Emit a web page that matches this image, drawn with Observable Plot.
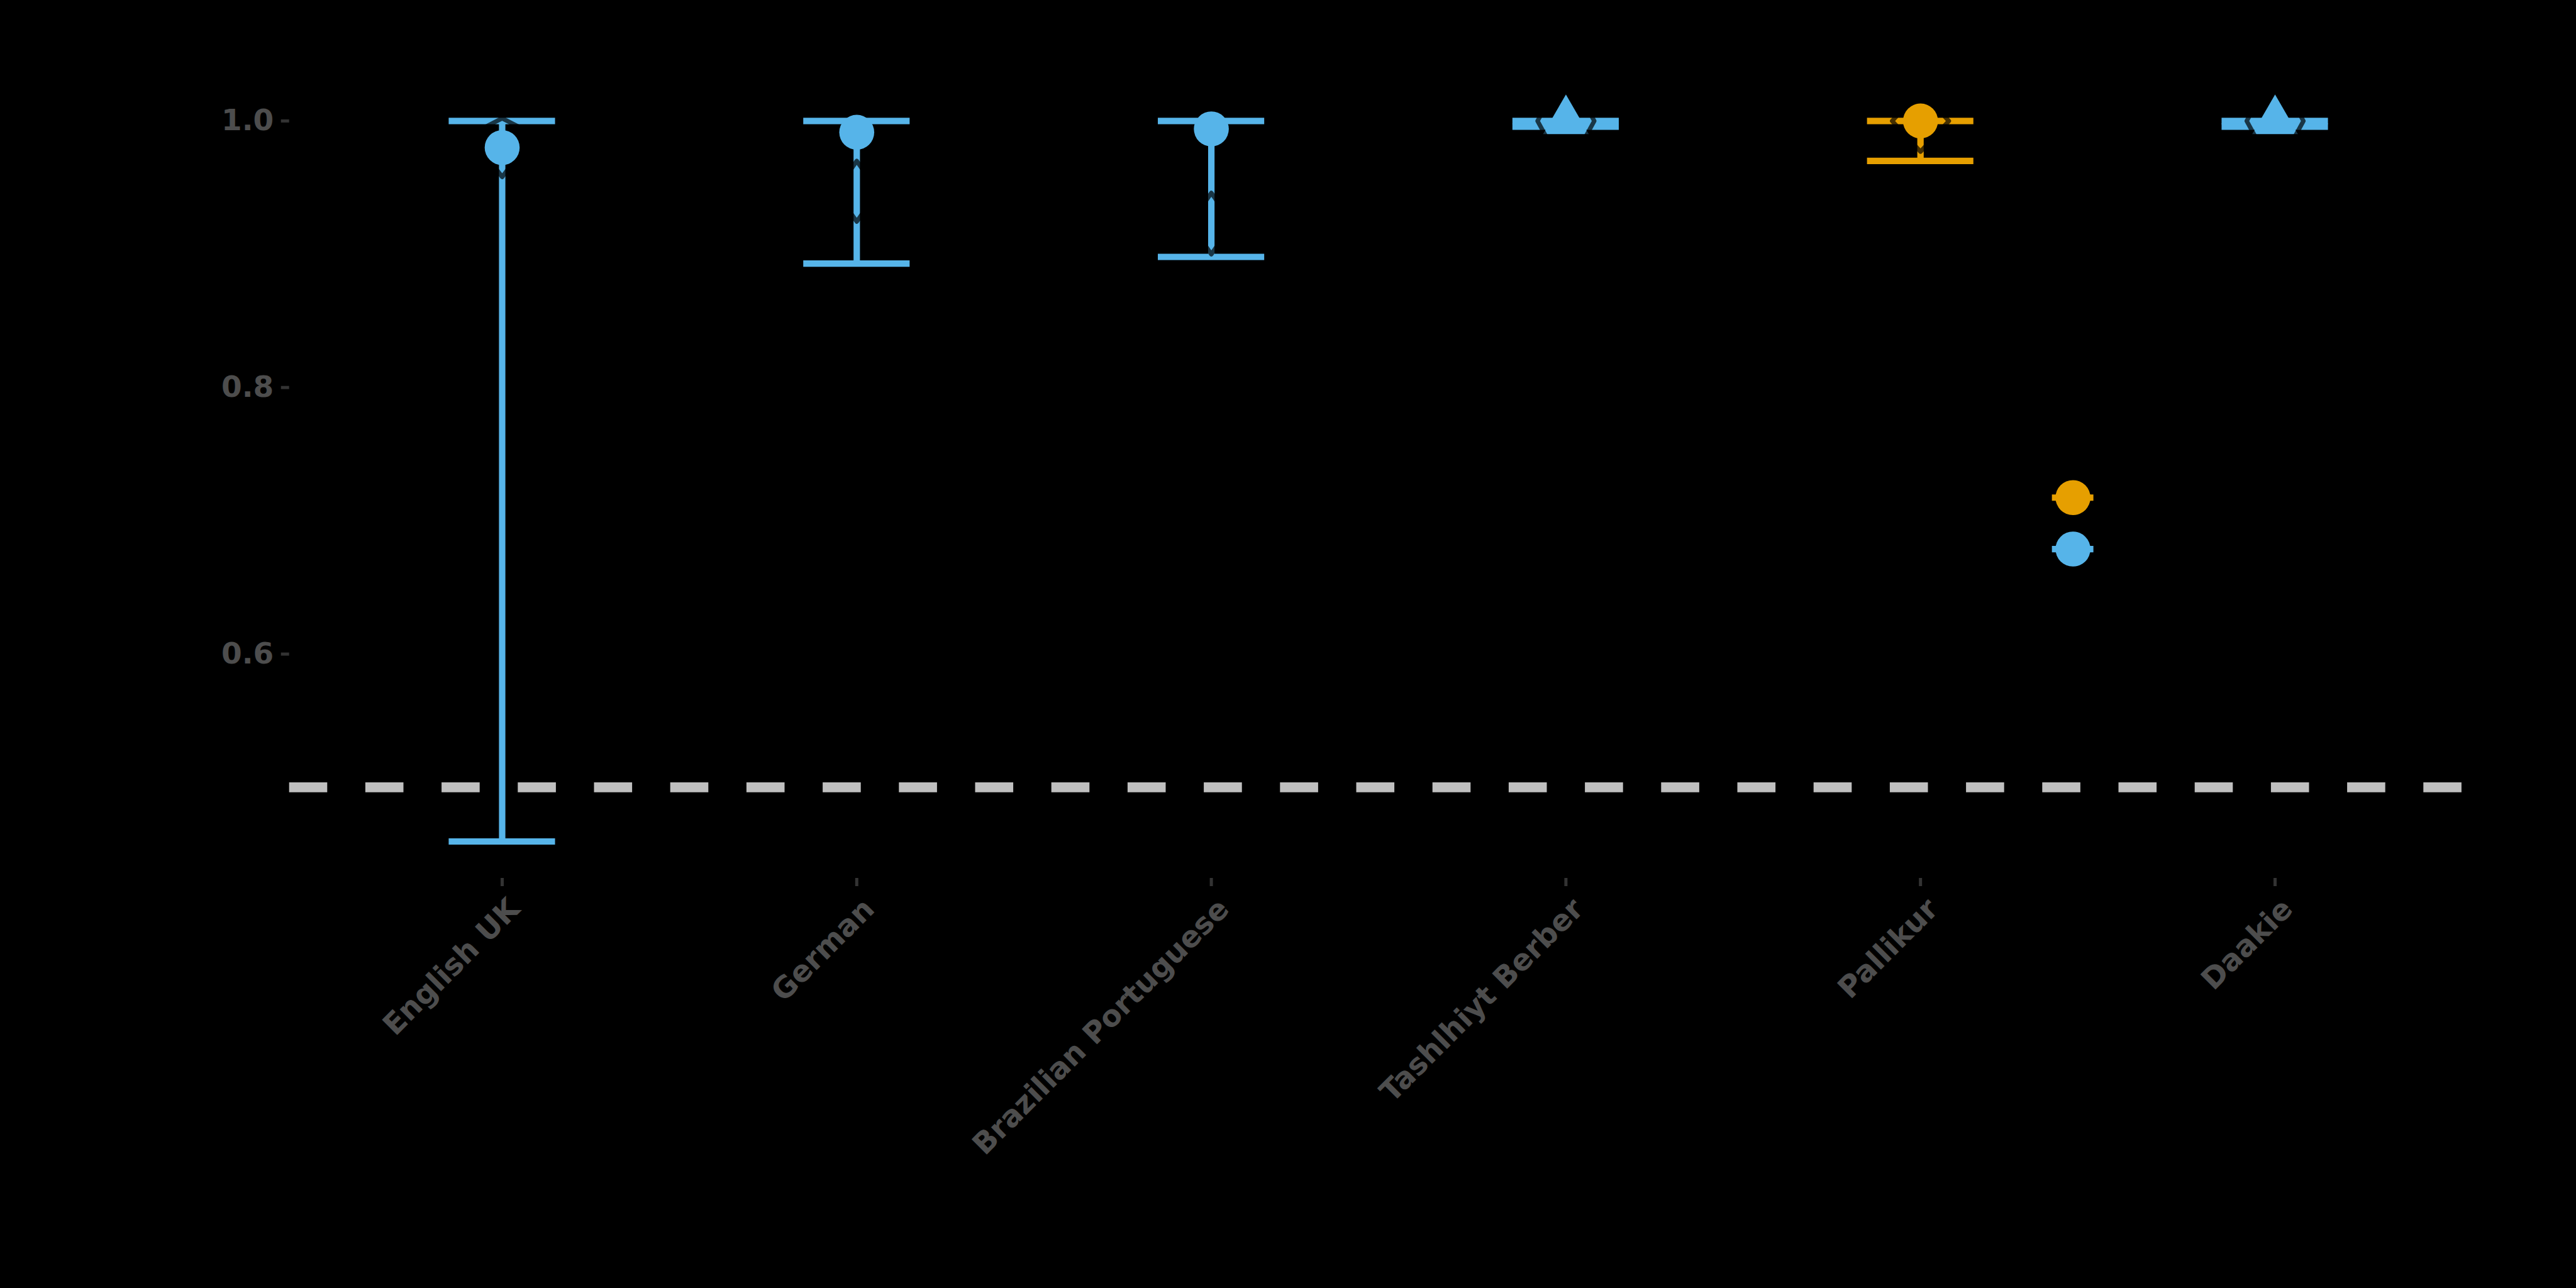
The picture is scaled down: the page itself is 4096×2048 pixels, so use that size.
<!DOCTYPE html>
<html>
<head>
<meta charset="utf-8">
<script src="https://cdn.jsdelivr.net/npm/d3@7"></script>
<script src="https://cdn.jsdelivr.net/npm/@observablehq/plot@0.6"></script>
<style>
  html, body { margin: 0; padding: 0; background: #000000; }
  #chart { width: 4096px; height: 2048px; overflow: hidden; }
</style>
</head>
<body>
<div id="chart"></div>
<script>
// ---- data ----
const categories = ["English UK", "German", "Brazilian Portuguese", "Tashlhiyt Berber", "Pallikur", "Daakie"];
const estimate   = [0.980, 0.9915, 0.994, 1.000, 1.000, 1.000];
const lower      = [0.4594, 0.893, 0.898, 0.9957, 0.970, 0.9957];
const upper      = [1.000, 1.000, 1.000, 1.000, 1.000, 1.000];
const group      = ["blue", "blue", "blue", "blue", "orange", "blue"];
const shape      = ["circle", "circle", "circle", "triangle", "circle", "triangle"];

// extra points drawn between Pallikur and Daakie
const extraX     = [5.43, 5.43];
const extraY     = [0.7174, 0.6788];
const extraGroup = ["orange", "blue"];

// dark, semi-transparent outlines (distribution shapes) per category
const shapeTop       = [1.002, 0.970, 0.946, 1.039, 1.023, 1.039];
const shapeMid       = [0.9897, 0.947, 0.923, 1.000, 1.000, 1.000];
const shapeBottom    = [0.958, 0.9245, 0.900, 0.961, 0.977, 0.961];
const shapeHalfWidth = [0.090, 0.060, 0.060, 0.080, 0.080, 0.080];

const refLine   = [0.5];
const yTicks    = [0.6, 0.8, 1.0];
const yTickText = ["0.6", "0.8", "1.0"];

const palette = {blue: "#56B4E9", orange: "#E69F00"};

// ---- tables built from the arrays ----
const rows = categories.map((c, k) => ({
  i: k + 1, label: c, est: estimate[k], lo: lower[k], hi: upper[k],
  color: palette[group[k]], shape: shape[k]
}));
const extra = extraX.map((x, k) => ({x, y: extraY[k], color: palette[extraGroup[k]]}));
const kite = categories.flatMap((c, k) => {
  const x = k + 1;
  return [
    {k, x: x, y: shapeTop[k]},
    {k, x: x + shapeHalfWidth[k], y: shapeMid[k]},
    {k, x: x, y: shapeBottom[k]},
    {k, x: x - shapeHalfWidth[k], y: shapeMid[k]}
  ];
});
const xIdx = categories.map((c, k) => k + 1);

const capHalf = 0.15, extraCapHalf = 0.0585;
const lw = 10.2;
const fs = 47;

const chart = Plot.plot({
  width: 4096,
  height: 2048,
  marginLeft: 459.7,
  marginRight: 140.7,
  marginTop: 134.6,
  marginBottom: 652,
  style: {background: "#000000", fontFamily: "DejaVu Sans", fontWeight: "bold"},
  x: {type: "linear", domain: [0.4, 6.6]},
  y: {type: "linear", domain: [0.4318, 1.027]},
  marks: [
    Plot.ruleY(refLine, {y: d => d, stroke: "#BFBFBF", strokeWidth: 15.7, strokeDasharray: "60.6,60.6"}),
    // error bars
    Plot.ruleX(rows, {x: "i", y1: "lo", y2: "hi", stroke: "color", strokeWidth: lw}),
    Plot.ruleY(rows, {x1: d => d.i - capHalf, x2: d => d.i + capHalf, y: "hi", stroke: "color", strokeWidth: lw}),
    Plot.ruleY(rows, {x1: d => d.i - capHalf, x2: d => d.i + capHalf, y: "lo", stroke: "color", strokeWidth: lw}),
    // triangle points
    Plot.dot(rows.filter(d => d.shape === "triangle"), {x: "i", y: "est", r: 27, symbol: "triangle", fill: "color"}),
    // dark translucent outlines
    Plot.line(kite, {x: "x", y: "y", z: "k", curve: "linear-closed", stroke: "#000000", strokeOpacity: 0.7, strokeWidth: 7}),
    // circle points
    Plot.dot(rows.filter(d => d.shape === "circle"), {x: "i", y: "est", r: 27.8, fill: "color"}),
    // extra points with tiny caps
    Plot.ruleY(extra, {x1: d => d.x - extraCapHalf, x2: d => d.x + extraCapHalf, y: "y", stroke: "color", strokeWidth: lw}),
    Plot.dot(extra, {x: "x", y: "y", r: 27.8, fill: "color"}),
    // axes
    Plot.axisY(yTicks, {anchor: "left", tickSize: 13, stroke: "#333333", strokeWidth: 5, fill: "none", tickFormat: () => "", label: null}),
    Plot.axisY(yTicks, {anchor: "left", tickSize: 0, tickPadding: 25, color: "#4D4D4D", fontSize: fs, fontWeight: "bold",
      tickFormat: d => yTickText[yTicks.indexOf(d)], label: null}),
    Plot.axisX(xIdx, {anchor: "bottom", tickSize: 13, stroke: "#333333", strokeWidth: 5, fill: "none", tickFormat: () => "", label: null}),
    Plot.text(rows, {x: "i", frameAnchor: "bottom", text: "label", rotate: -45, textAnchor: "end", lineAnchor: "top",
      dx: 7, dy: 28, fontSize: fs, fontWeight: "bold", fill: "#4D4D4D"})
  ]
});
document.getElementById("chart").appendChild(chart);
</script>
</body>
</html>
